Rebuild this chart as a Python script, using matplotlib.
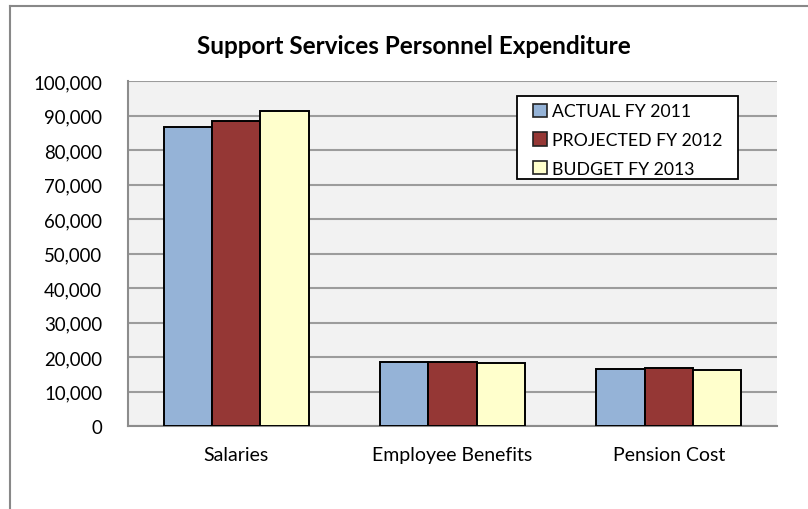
import matplotlib.pyplot as plt
from matplotlib.lines import Line2D
from matplotlib.patches import Patch, Rectangle
from matplotlib.ticker import FuncFormatter
import numpy as np

plt.rcParams['font.family'] = ['Lato', 'DejaVu Sans']

categories = ['Salaries', 'Employee Benefits', 'Pension Cost']
series = ['ACTUAL FY 2011', 'PROJECTED FY 2012', 'BUDGET FY 2013']
actual_2011 = [86800, 18700, 16700]
projected_2012 = [88400, 18700, 16800]
budget_2013 = [91200, 18400, 16400]
colors = ['#95B3D7', '#953735', '#FFFFCC']

fig = plt.figure(figsize=(8.08, 5.1), dpi=100)
ax = fig.add_axes([0.1584, 0.1622, 0.8032, 0.677])
ax.set_facecolor('#F2F2F2')

x = np.arange(len(categories))
w = 0.223
for i, (vals, c) in enumerate(zip([actual_2011, projected_2012, budget_2013], colors)):
    ax.bar(x + (i - 1) * w, vals, width=w, color=c, edgecolor='black',
           linewidth=1.4, zorder=3)

ax.set_xlim(-0.5, 2.5)
ax.set_ylim(0, 100000)
ax.set_yticks(np.arange(0, 100001, 10000))
ax.yaxis.set_major_formatter(FuncFormatter(lambda v, p: f'{int(v):,}'))
ax.set_xticks(x)
ax.set_xticklabels(categories)
ax.tick_params(length=0, colors='black')
ax.tick_params(axis='y', pad=18.5, labelsize=13.4)
ax.tick_params(axis='x', pad=14.5, labelsize=14)
ax.grid(axis='y', color='#9C9C9C', linewidth=1.5, zorder=0)
ax.spines['top'].set_visible(False)
ax.spines['right'].set_visible(False)
for s in ('left', 'bottom'):
    ax.spines[s].set_color('#8C8C8C')
    ax.spines[s].set_linewidth(1.5)

# legend: white box drawn separately, entries placed inside it
ax.add_patch(Rectangle((0.599, 0.716), 0.341, 0.2406, transform=ax.transAxes,
                       facecolor='white', edgecolor='black', linewidth=1.3, zorder=5))
handles = [Patch(facecolor=c, edgecolor='#222222', linewidth=1.2) for c in colors]
leg = ax.legend(handles, series, loc='upper left', bbox_to_anchor=(0.624, 0.935),
                frameon=False, fontsize=12.7, handlelength=0.8, handleheight=0.8,
                handletextpad=0.3, labelspacing=0.72, borderpad=0, borderaxespad=0)
leg.set_zorder(6)

fig.text(414 / 808, 1 - 46 / 510, 'Support Services Personnel Expenditure',
         ha='center', va='center', fontsize=17.5, fontweight='bold')

# chart area border (left and top edges)
fig.add_artist(Line2D([10 / 808, 10 / 808], [0, 1 - 7 / 510], color='#888888', lw=1.5))
fig.add_artist(Line2D([10 / 808, 1], [1 - 7 / 510, 1 - 7 / 510], color='#888888', lw=1.5))

fig.savefig('out.png', dpi=100)
